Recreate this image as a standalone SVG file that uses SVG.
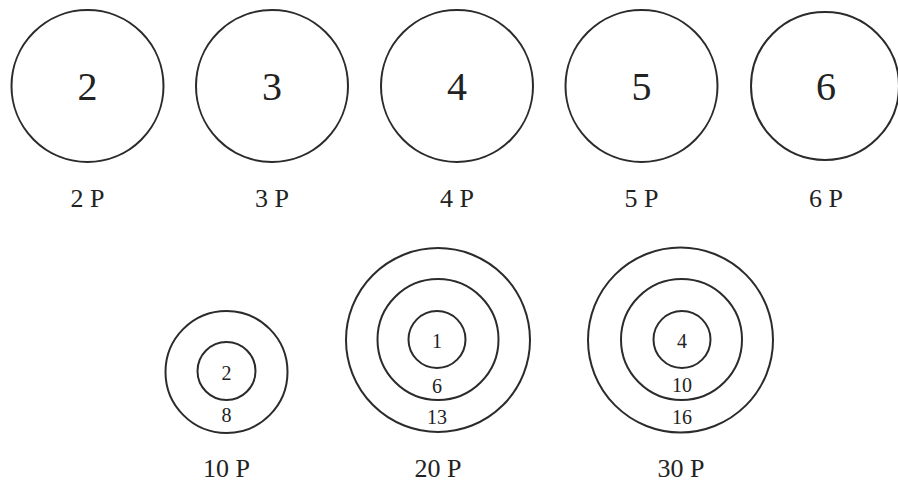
<svg xmlns="http://www.w3.org/2000/svg" width="898" height="486" viewBox="0 0 898 486">
<style>
circle{fill:none;stroke:#2b2b2b;stroke-width:2}
text{font-family:"Liberation Serif","Times New Roman",serif;fill:#222;text-anchor:middle}
.big{font-size:40px}
.lab{font-size:26px}
.sm{font-size:20px}
</style>
<rect width="898" height="486" fill="#fff"/>
<g id="n2"><circle cx="87.5" cy="86" r="76"/><text class="big" x="87.5" y="100">2</text><text class="lab" x="87.5" y="207">2 P</text></g>
<g id="n3"><circle cx="272" cy="86" r="76"/><text class="big" x="272" y="100">3</text><text class="lab" x="272" y="207">3 P</text></g>
<g id="n4"><circle cx="457" cy="86" r="76"/><text class="big" x="457" y="100">4</text><text class="lab" x="457" y="207">4 P</text></g>
<g id="n5"><circle cx="641.5" cy="86" r="76"/><text class="big" x="641.5" y="100">5</text><text class="lab" x="641.5" y="207">5 P</text></g>
<g id="n6"><circle cx="825" cy="86" r="74"/><text class="big" x="826" y="100">6</text><text class="lab" x="826" y="207">6 P</text></g>
<g id="n10"><circle cx="226.5" cy="372" r="61"/><circle cx="226.5" cy="371" r="29"/><text class="sm" x="226.5" y="380">2</text><text class="sm" x="226.5" y="422">8</text><text class="lab" x="226.5" y="477">10 P</text></g>
<g id="n20"><circle cx="438" cy="340" r="92"/><circle cx="438" cy="339.5" r="60.5"/><circle cx="437" cy="339.5" r="28.5"/><text class="sm" x="437" y="348">1</text><text class="sm" x="437" y="393">6</text><text class="sm" x="437" y="424">13</text><text class="lab" x="438" y="477">20 P</text></g>
<g id="n30"><circle cx="680.5" cy="340" r="92.5"/><circle cx="681.5" cy="339.5" r="60.5"/><circle cx="682" cy="339.5" r="28.5"/><text class="sm" x="682" y="348">4</text><text class="sm" x="682" y="392">10</text><text class="sm" x="682" y="424">16</text><text class="lab" x="681" y="477">30 P</text></g>
<g id="connectors"/>
</svg>
